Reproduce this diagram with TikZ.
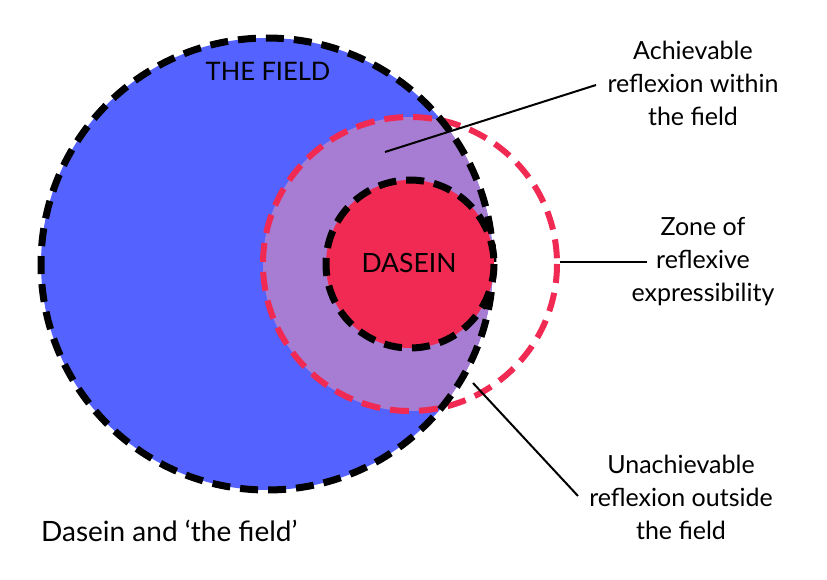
\documentclass[tikz,border=0pt]{standalone}
\usepackage{fontspec}
\setmainfont{Lato}
\definecolor{fieldblue}{RGB}{84,99,255}
\definecolor{reflpurple}{RGB}{167,124,211}
\definecolor{daseinred}{RGB}{240,42,82}
\begin{document}
\begin{tikzpicture}[x=1pt,y=-1pt,
  blackdash/.style={draw=black,line width=7pt,dash pattern=on 18pt off 10pt},
  reddash/.style={draw=daseinred,line width=6pt,dash pattern=on 19pt off 10pt},
  leader/.style={draw=black,line width=2pt},
  lbl/.style={font=\fontsize{25}{33}\selectfont,align=center,text=black,inner sep=0pt},
  caplbl/.style={font=\fontsize{25.5}{28}\selectfont,text=black,inner sep=0pt}]
\useasboundingbox (0,0) rectangle (827,580);
% coordinates
\coordinate (fc) at (267,264);
\coordinate (rc) at (410,264);
\coordinate (dc) at (410,264);
% fills
\fill[fieldblue] (fc) circle (226);
\begin{scope}
  \clip (fc) circle (226);
  \fill[reflpurple] (rc) circle (147);
\end{scope}
% red dashed zone
\draw[reddash] (rc) circle (147);
% big field dashed
\draw[blackdash] (fc) circle (226);
% dasein
\fill[daseinred] (dc) circle (84);
\draw[blackdash] (dc) circle (84);
% texts
\node[caplbl] (field) at (268,71) {THE FIELD};
\node[caplbl,font=\fontsize{26.5}{28}\selectfont] (dasein) at (409,263) {DASEIN};
\node[font=\fontsize{28}{34}\selectfont,anchor=west,inner sep=0pt] (title) at (41,531) {Dasein and ‘the field’};
\node[lbl] (ach) at (693,83) {Achievable\\reflexion within\\the field};
\node[lbl] (zone) at (703,262) {Zone of\\reflexive\\expressibility};
\node[lbl] (unach) at (681,497) {Unachievable\\reflexion outside\\the field};
% leader lines
\coordinate (a1) at (385,152);
\coordinate (a2) at (596,85);
\coordinate (z1) at (560,262);
\coordinate (z2) at (647,262);
\coordinate (u1) at (473,383);
\coordinate (u2) at (578,496);
\draw[leader] (a1) -- (a2);
\draw[leader] (z1) -- (z2);
\draw[leader] (u1) -- (u2);
\end{tikzpicture}
\end{document}
